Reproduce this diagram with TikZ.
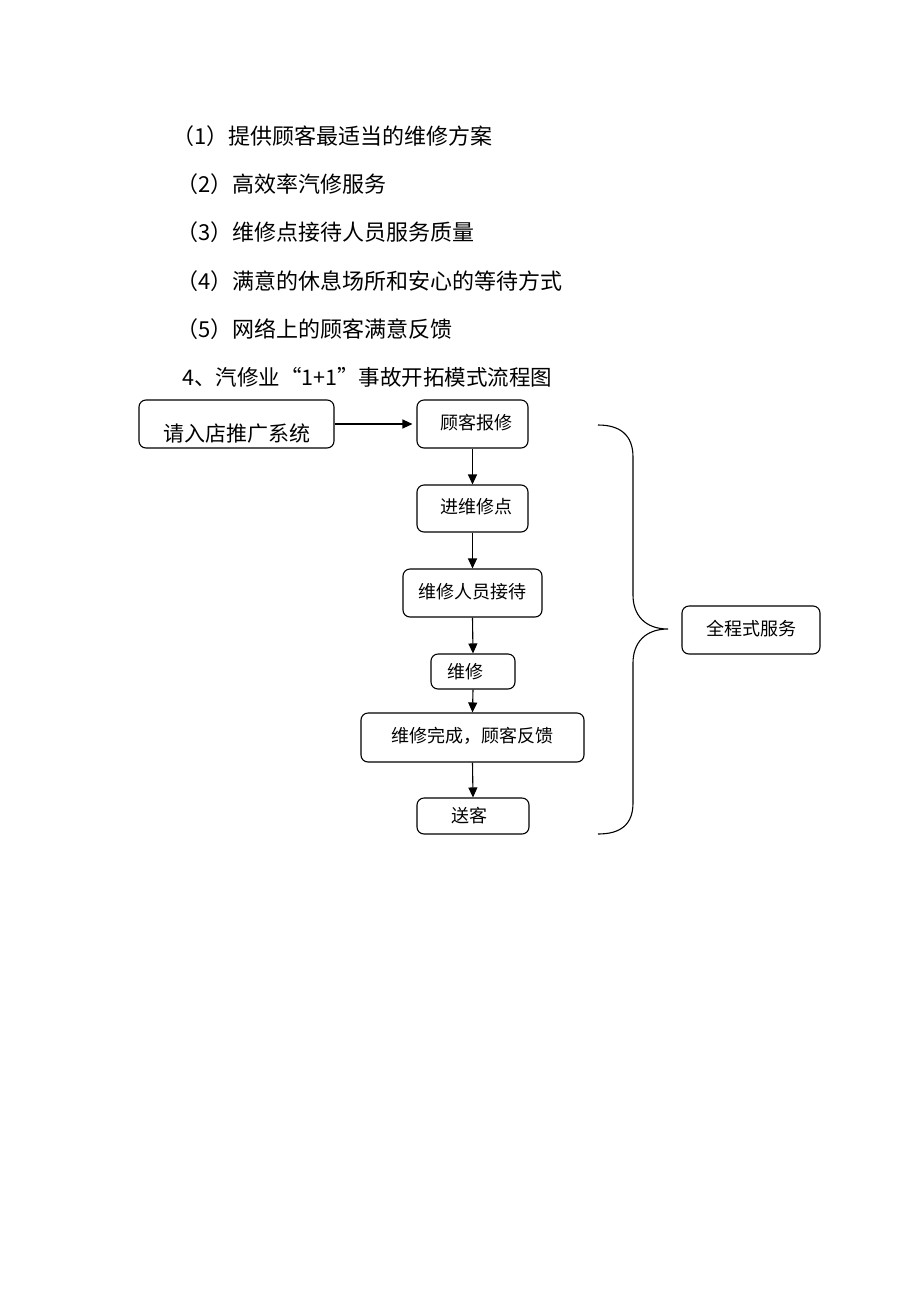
\documentclass[tikz,border=0pt]{standalone}
\usepackage{fontspec}
\newfontfamily\cjk{Noto Sans CJK SC}
\usetikzlibrary{arrows.meta}
\begin{document}
\begin{tikzpicture}[x=1pt,y=-1pt,
  line/.style={font=\cjk\fontsize{22}{26}\selectfont,anchor=west,inner sep=0pt},
  box/.style={draw,rounded corners=7pt,line width=1.1pt,font=\cjk\fontsize{18}{22}\selectfont,inner sep=0pt},
  conn/.style={line width=1.1pt,-{Triangle[length=10pt,width=9pt]}},
  brace/.style={line width=1.1pt}]
\useasboundingbox[fill=white] (0,0) rectangle (920,1302);
% text lines
\node[line] (l1) at (172,136) {（1）提供顾客最适当的维修方案};
\node[line] (l2) at (176,184) {（2）高效率汽修服务};
\node[line] (l3) at (176,232) {（3）维修点接待人员服务质量};
\node[line] (l4) at (176,281) {（4）满意的休息场所和安心的等待方式};
\node[line] (l5) at (176,329) {（5）网络上的顾客满意反馈};
\node[line,font=\cjk\fontsize{21.5}{26}\selectfont] (l6) at (182,377) {4、汽修业“1+1”事故开拓模式流程图};
% boxes
\node[box,minimum width=195pt,minimum height=48pt,font=\cjk\fontsize{21}{25}\selectfont,text height=36pt,text depth=1pt] (a) at (236.5,424) {请入店推广系统};
\node[box,minimum width=111pt,minimum height=48pt,text height=19pt,text depth=9pt] (b) at (472.5,424) {\hspace*{8pt}顾客报修};
\node[box,minimum width=111pt,minimum height=47pt,text height=19pt,text depth=9pt] (c) at (472.5,508.5) {\hspace*{8pt}进维修点};
\node[box,minimum width=139pt,minimum height=48pt,text height=19pt,text depth=9pt] (d) at (472.5,593) {维修人员接待};
\node[box,minimum width=84pt,minimum height=35pt] (e) at (473,671.5) {维修\hspace*{16pt}};
\node[box,minimum width=223pt,minimum height=49pt,text height=19pt,text depth=9pt] (f) at (472.5,737.5) {维修完成，顾客反馈};
\node[box,minimum width=112pt,minimum height=36pt] (g) at (473,816) {送客\hspace*{8pt}};
\node[box,minimum width=138pt,minimum height=48pt,text height=17pt,text depth=7pt] (h) at (751,630) {全程式服务};
% connectors
\draw[conn] (a.east) -- ([xshift=-4pt]b.west);
\draw[conn] (b.south) -- (c.north);
\draw[conn] (c.south) -- (d.north);
\draw[conn] (d.south) -- (e.north);
\draw[conn] (e.south) -- (f.north);
\draw[conn] (f.south) -- (g.north);
% brace
\coordinate (btop) at (598,425);
\coordinate (btip) at (668,629);
\coordinate (bbot) at (598,834);
\draw[brace] (btop) .. controls (620,425) and (633,435) .. (633,457) -- (633,595)
  .. controls (633,615) and (645,629) .. (btip)
  .. controls (645,629) and (633,643) .. (633,663) -- (633,803)
  .. controls (633,825) and (620,834) .. (bbot);
\end{tikzpicture}
\end{document}
